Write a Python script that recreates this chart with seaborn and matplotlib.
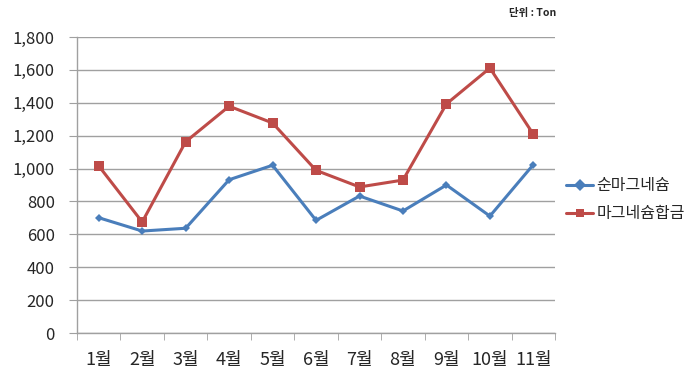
import matplotlib
matplotlib.use('Agg')
import matplotlib.pyplot as plt
import seaborn as sns
import pandas as pd
from matplotlib.ticker import FuncFormatter, FixedLocator

months = ['1월', '2월', '3월', '4월', '5월', '6월', '7월', '8월', '9월', '10월', '11월']
pure_mg = [701, 620, 637, 932, 1020, 685, 833, 742, 900, 711, 1024]
mg_alloy = [1016, 675, 1163, 1379, 1277, 989, 888, 930, 1393, 1611, 1208]
series_names = ['순마그네슘', '마그네슘합금']

df = pd.DataFrame({
    'pos': list(range(len(months))) * 2,
    'value': pure_mg + mg_alloy,
    'series': [series_names[0]] * len(months) + [series_names[1]] * len(months),
})

sns.set_style('white')
plt.rcParams['font.family'] = ['Noto Sans CJK KR', 'DejaVu Sans']

fig = plt.figure(figsize=(7, 3.85), dpi=100)
ax = fig.add_axes([0.11, 0.135, 0.683, 0.769])

sns.lineplot(data=df, x='pos', y='value', hue='series', style='series',
             palette={series_names[0]: '#4a7ebb', series_names[1]: '#be4b48'},
             markers={series_names[0]: 'D', series_names[1]: 's'},
             dashes=False, sort=False, linewidth=2.2, ax=ax,
             markeredgewidth=0, legend=True)
for line, ms in zip(ax.lines, [4.5, 7]):
    line.set_markersize(ms)

ax.set_xlim(-0.5, len(months) - 0.5)
ax.set_ylim(0, 1800)
ax.set_yticks(range(0, 1801, 200))
ax.yaxis.set_major_formatter(FuncFormatter(lambda v, p: f'{int(v):,}'))
ax.grid(axis='y', color='#a0a0a0', linewidth=1)
ax.set_axisbelow(True)

ax.set_xticks(range(len(months)))
ax.set_xticklabels(months)
ax.xaxis.set_minor_locator(FixedLocator([i - 0.5 for i in range(len(months) + 1)]))
ax.tick_params(axis='x', which='major', length=0, pad=13, labelsize=13)
ax.tick_params(axis='x', which='minor', length=5, color='#a0a0a0', bottom=True)
ax.tick_params(axis='y', length=6, color='#a0a0a0', left=True, labelsize=12, pad=10)

for s in ['top', 'right']:
    ax.spines[s].set_visible(False)
for s in ['left', 'bottom']:
    ax.spines[s].set_color('#a0a0a0')
    ax.spines[s].set_linewidth(1)

ax.set_xlabel('')
ax.set_ylabel('')

leg = ax.legend(loc='center left', bbox_to_anchor=(1.0, 0.45), frameon=False,
                fontsize=11.5, handlelength=1.7, handletextpad=0.2, labelspacing=0.7,
                borderaxespad=0.3)

fig.text(0.795, 0.965, '단위 : Ton', ha='right', va='center', fontsize=7.5, fontweight='bold')

plt.savefig('out.png', dpi=100)
plt.close()
